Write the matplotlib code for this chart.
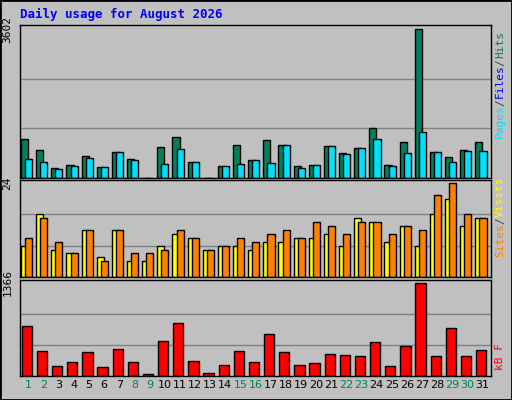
import matplotlib
matplotlib.use("Agg")
import matplotlib.pyplot as plt
import numpy as np

days = list(range(1, 32))
weekend = [1, 2, 8, 9, 15, 16, 22, 23, 29, 30]
hits = [956, 686, 245, 319, 539, 270, 637, 466, 0, 760, 1005, 392, 0, 294, 809, 441,
        931, 809, 294, 319, 784, 613, 735, 1201, 319, 882, 3602, 637, 515, 686, 882]
files = [466, 392, 221, 294, 490, 270, 637, 441, 0, 343, 711, 392, 0, 294, 343, 441,
         368, 809, 245, 319, 784, 588, 735, 956, 294, 613, 1127, 637, 392, 662, 662]
sites = [8, 16, 7, 6, 12, 5, 12, 4, 4, 8, 11, 10, 7, 8, 8, 7, 9, 9, 10, 10, 11, 8, 15, 14,
         9, 13, 8, 16, 20, 13, 15]
visits = [10, 15, 9, 6, 12, 4, 12, 6, 6, 7, 12, 10, 7, 8, 10, 9, 11, 12, 10, 14, 13, 11, 14,
          14, 11, 13, 12, 21, 24, 16, 15]
kbytes = [738, 364, 140, 199, 349, 125, 394, 199, 35, 513, 783, 214, 50, 155, 364, 199,
          618, 349, 155, 184, 319, 304, 289, 498, 140, 439, 1366, 289, 708, 289, 379]

W, H = 512, 400
fig = plt.figure(figsize=(W / 100, H / 100), dpi=100, facecolor="#C0C0C0")
mono = "DejaVu Sans Mono"
x = np.array(days)

def ax_at(top, bottom):
    a = fig.add_axes([20 / W, 1 - bottom / H, 471 / W, (bottom - top) / H])
    a.set_facecolor("#C0C0C0")
    a.set_xlim(0.45, 31.55)
    a.set_xticks([])
    for s in a.spines.values():
        s.set_color("black")
        s.set_linewidth(1)
    a.tick_params(left=False)
    return a

def setup_y(a, top):
    a.set_ylim(0, top * 1.03)
    for g in (top / 3, 2 * top / 3):
        a.axhline(g, color="#808080", lw=1, zorder=0)
    a.set_yticks([top])
    a.set_yticklabels([str(top)], rotation=90, va="center", fontsize=8, family=mono)
    a.tick_params(axis="y", pad=2)

a1 = ax_at(25, 178)
a1.bar(x - 0.25, hits, width=0.47, color="#00805C", edgecolor="black", lw=1)
a1.bar(x + 0.02, files, width=0.47, color="#00E0FF", edgecolor="black", lw=1)
setup_y(a1, 3602)

a2 = ax_at(180, 277)
a2.bar(x - 0.25, sites, width=0.47, color="#FFFF00", edgecolor="black", lw=1)
a2.bar(x + 0.02, visits, width=0.47, color="#FF8000", edgecolor="black", lw=1)
setup_y(a2, 24)

a3 = ax_at(280, 376)
a3.bar(x - 0.1, kbytes, width=0.68, color="#FF0000", edgecolor="black", lw=1)
setup_y(a3, 1366)
a3.set_xticks(days)
a3.set_xticklabels([str(d) for d in days], fontsize=8)
a3.tick_params(axis="x", length=0, pad=3)
for lbl, d in zip(a3.get_xticklabels(), days):
    lbl.set_color("#00805C" if d in weekend else "black")

fig.text(20 / W, 1 - 14 / H, "Daily usage for August 2026", color="#0000FF",
         fontsize=9, family=mono, fontweight="bold", va="center")

def side(y0, parts):
    # parts listed bottom to top, drawn rotated
    t = None
    ypix = y0
    for txt, col in parts:
        t = fig.text(500 / W, 1 - ypix / H, txt, color=col, rotation=90, fontsize=8,
                     family=mono, ha="center", va="bottom")
        ypix -= len(txt) * 6.3 + 1
side(138, [("Pages", "#00E0FF"), ("/", "#404040"), ("Files", "#0000FF"), ("/", "#404040"), ("Hits", "#00805C")])
side(257, [("Sites", "#FF8000"), ("/", "#404040"), ("Visits", "#FFFF00")])
side(370, [("kB F", "#FF0000")])

fig.patches.append(plt.Rectangle((0, 0), 1, 1, transform=fig.transFigure, fill=False,
                                 edgecolor="black", lw=2))
fig.savefig("out.png", dpi=100, facecolor="#C0C0C0")
